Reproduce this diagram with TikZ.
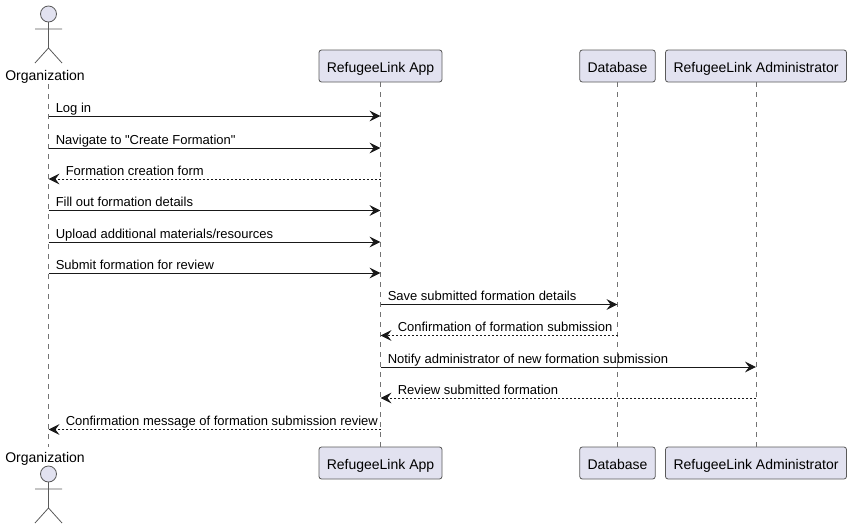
\documentclass[tikz,border=0pt]{standalone}
\usepackage{fontspec}
\newfontfamily\umlfont{Liberation Sans}
\usetikzlibrary{arrows.meta}
\definecolor{boxfill}{HTML}{E2E2F0}
\definecolor{boxline}{HTML}{5A5A5A}
\tikzset{
  participant/.style={draw=boxline, fill=boxfill, rounded corners=1.9pt, line width=0.6pt,
    minimum height=24pt, inner sep=0pt, text height=9.5pt, text depth=0.5pt, font=\umlfont\fontsize{10.5}{12}\selectfont},
  actorname/.style={inner sep=0pt, font=\umlfont\fontsize{10.5}{12}\selectfont},
  actorline/.style={draw=boxline, line width=0.6pt},
  lifeline/.style={draw=black!55, line width=0.4pt, dash pattern=on 3.75pt off 3.75pt},
  msg/.style={->, >={Stealth[length=8.2pt,width=8pt,inset=3pt]}, line width=0.75pt, draw=black!90},
  reply/.style={msg, dash pattern=on 1.5pt off 1.5pt},
  msglabel/.style={anchor=base west, inner sep=0pt, xshift=5.25pt, yshift=3pt, font=\umlfont\fontsize{9.75}{12}\selectfont},
  replylabel/.style={msglabel, xshift=7.5pt}
}
\begin{document}
\begin{tikzpicture}[x=0.75pt, y=-0.75pt]
  \useasboundingbox (0,0) rectangle (851,529);

  % Participants (top row)
  \node[actorname] (orgTop) at (45,76.5) {Organization};
  \node[participant, minimum width=92.25pt] (appTop) at (380.5,66) {RefugeeLink App};
  \node[participant, minimum width=56.6pt] (dbTop) at (617.5,66) {Database};
  \node[participant, minimum width=135.75pt] (adminTop) at (756,66) {RefugeeLink Administrator};

  % Participants (bottom row)
  \node[actorname] (orgBot) at (45,458.5) {Organization};
  \node[participant, minimum width=92.25pt] (appBot) at (380.5,463) {RefugeeLink App};
  \node[participant, minimum width=56.6pt] (dbBot) at (617.5,463) {Database};
  \node[participant, minimum width=135.75pt] (adminBot) at (756,463) {RefugeeLink Administrator};

  % Lifeline ends of the actor
  \coordinate (orgStart) at (48.5,84);
  \coordinate (orgEnd) at (48.5,447);

  % Lifelines
  \draw[lifeline] (orgStart) -- (orgEnd);
  \draw[lifeline] (appTop.south) -- (appBot.north);
  \draw[lifeline] (dbTop.south) -- (dbBot.north);
  \draw[lifeline] (adminTop.south) -- (adminBot.north);

  % Actor figures
  \draw[actorline, fill=boxfill] (48.5,14) circle (6pt);
  \draw[actorline] (48.5,22) -- (48.5,48) (35,29) -- (62,29) (35,63) -- (48.5,48) -- (62,63);
  \draw[actorline, fill=boxfill] (48.5,474) circle (6pt);
  \draw[actorline] (48.5,482) -- (48.5,508) (35,489) -- (62,489) (35,523) -- (48.5,508) -- (62,523);

  % Message rows
  \coordinate (m1) at (0,116);
  \coordinate (m2) at (0,148);
  \coordinate (m3) at (0,179);
  \coordinate (m4) at (0,210.5);
  \coordinate (m5) at (0,242);
  \coordinate (m6) at (0,273);
  \coordinate (m7) at (0,304.5);
  \coordinate (m8) at (0,335.5);
  \coordinate (m9) at (0,367);
  \coordinate (m10) at (0,398);
  \coordinate (m11) at (0,429.5);

  % Messages
  \draw[msg] (orgStart |- m1) -- (appTop |- m1);
  \node[msglabel] (t1) at (orgStart |- m1) {Log in};
  \draw[msg] (orgStart |- m2) -- (appTop |- m2);
  \node[msglabel] (t2) at (orgStart |- m2) {Navigate to "Create Formation"};
  \draw[reply] (appTop |- m3) -- (orgStart |- m3);
  \node[replylabel] (t3) at (orgStart |- m3) {Formation creation form};
  \draw[msg] (orgStart |- m4) -- (appTop |- m4);
  \node[msglabel] (t4) at (orgStart |- m4) {Fill out formation details};
  \draw[msg] (orgStart |- m5) -- (appTop |- m5);
  \node[msglabel] (t5) at (orgStart |- m5) {Upload additional materials/resources};
  \draw[msg] (orgStart |- m6) -- (appTop |- m6);
  \node[msglabel] (t6) at (orgStart |- m6) {Submit formation for review};
  \draw[msg] (appTop |- m7) -- (dbTop |- m7);
  \node[msglabel] (t7) at (appTop |- m7) {Save submitted formation details};
  \draw[reply] (dbTop |- m8) -- (appTop |- m8);
  \node[replylabel] (t8) at (appTop |- m8) {Confirmation of formation submission};
  \draw[msg] (appTop |- m9) -- (adminTop |- m9);
  \node[msglabel] (t9) at (appTop |- m9) {Notify administrator of new formation submission};
  \draw[reply] (adminTop |- m10) -- (appTop |- m10);
  \node[replylabel] (t10) at (appTop |- m10) {Review submitted formation};
  \draw[reply] (appTop |- m11) -- (orgStart |- m11);
  \node[replylabel] (t11) at (orgStart |- m11) {Confirmation message of formation submission review};
\end{tikzpicture}
\end{document}
